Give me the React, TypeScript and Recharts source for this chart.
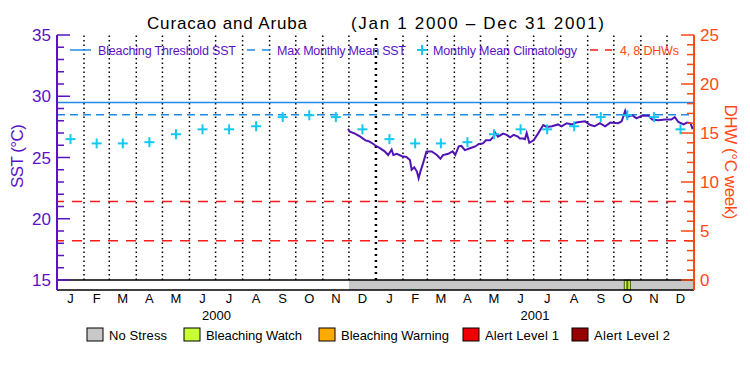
import { ComposedChart, Line, XAxis, YAxis, ReferenceLine, ReferenceArea } from 'recharts'

const FONT = '"Liberation Sans", Arial, sans-serif'
const PURPLE = '#5a12c8'
const ORANGE = '#ff4a14'
const BLUE = '#1e8ce6'
const CYAN = '#14c8f0'
const SST_LINE = '#5014b4'

const monthLetters = ['J', 'F', 'M', 'A', 'M', 'J', 'J', 'A', 'S', 'O', 'N', 'D']
const monthLengths2000 = [31, 29, 31, 30, 31, 30, 31, 31, 30, 31, 30, 31]
const monthLengths2001 = [31, 28, 31, 30, 31, 30, 31, 31, 30, 31, 30, 31]
const years = ['2000', '2001']

// monthly mean climatology (°C), same for both years
const climatology = [26.5, 26.15, 26.15, 26.25, 26.9, 27.3, 27.3, 27.55, 28.3, 28.45, 28.3, 27.3]

// satellite SST, day index from Jan 1 2000
const sstDays = [
  334, 336, 342, 348, 354, 357, 361, 365, 371, 376, 380, 384, 386, 390, 396, 401, 405, 407, 410, 413,
  415, 417, 420, 424, 430, 436, 440, 443, 449, 454, 457, 461, 464, 468, 474, 480, 484, 489, 492, 497,
  501, 503, 506, 512, 516, 520, 524, 529, 531, 535, 537, 539, 542, 547, 552, 558, 562, 568, 575, 579,
  585, 591, 596, 606, 612, 617, 623, 629, 635, 644, 648, 652, 654, 660, 665, 671, 679, 683, 690, 698,
  705, 709, 713, 719, 723, 727, 729, 731,
]
const sstValues = [
  27.35, 27.1, 26.95, 26.7, 26.4, 26.35, 26.2, 26.0, 25.75, 25.5, 25.2, 25.65, 25.2, 25.3, 25.1, 25.05, 24.8, 24.0, 24.2, 23.85,
  23.3, 23.85, 24.5, 25.5, 25.5, 25.2, 24.9, 25.2, 25.3, 25.5, 25.2, 25.9, 25.95, 25.6, 25.75, 25.9, 26.1, 26.15, 26.4, 26.4,
  26.7, 27.0, 26.7, 26.95, 26.85, 26.65, 26.85, 26.7, 26.55, 26.55, 26.5, 27.0, 26.2, 26.4, 26.95, 27.65, 27.5, 27.55, 27.7, 27.55,
  27.8, 27.7, 27.85, 27.95, 27.65, 27.55, 27.8, 27.55, 27.85, 27.8, 27.95, 28.8, 28.3, 28.45, 28.2, 28.4, 28.4, 28.1, 28.05, 28.1,
  28.1, 28.3, 27.9, 27.7, 27.85, 27.8, 27.4, 27.5,
]

const bleachingThreshold = 29.5
const maxMonthlyMean = 28.5
const dhwLevels = [4, 8]

// stress level bar
const noStressStart = 335
const watchPeriods = [
  [651, 654],
  [655, 658],
]
const stressNames = ['No Stress', 'Bleaching Watch', 'Bleaching Warning', 'Alert Level 1', 'Alert Level 2']
const stressColors = ['#c8c8c8', '#c8ff32', '#ffaa00', '#f00000', '#960000']

const TOTAL_DAYS = 731
const SST_DOMAIN = [14.1837, 35]
const DHW_DOMAIN = [-1.0204, 25]

const monthStarts: number[] = []
let acc = 0
for (const len of [...monthLengths2000, ...monthLengths2001]) {
  monthStarts.push(acc)
  acc += len
}
const monthLens = [...monthLengths2000, ...monthLengths2001]
const monthMids = monthStarts.map((s, i) => s + monthLens[i] / 2)
const yearMids = [183, 548.5]

const sstData = sstDays.map((d, i) => ({ d, v: sstValues[i] }))
const climData = monthMids.map((d, i) => ({ d, v: climatology[i % 12] }))

const sstTicks = Array.from({ length: 21 }, (_, i) => 15 + i)
const dhwTicks = Array.from({ length: 26 }, (_, i) => i)

function SstTick({ x, y, payload }: any) {
  const v = payload.value
  const major = v % 5 === 0
  return (
    <g>
      <line x1={x} x2={x + (major ? 13 : 7)} y1={y} y2={y} stroke={PURPLE} strokeWidth={1.5} />
      {major && (
        <text x={x - 6} y={y + 6} textAnchor="end" fill={PURPLE} fontSize={17} fontFamily={FONT}>
          {v}
        </text>
      )}
    </g>
  )
}

function DhwTick({ x, y, payload }: any) {
  const v = payload.value
  const major = v % 5 === 0
  return (
    <g>
      <line x1={x} x2={x - (major ? 13 : 7)} y1={y} y2={y} stroke={ORANGE} strokeWidth={1.5} />
      {major && (
        <text x={x + 6} y={y + 6} textAnchor="start" fill={ORANGE} fontSize={17} fontFamily={FONT}>
          {v}
        </text>
      )}
    </g>
  )
}

function MonthTick({ x, y, payload }: any) {
  const idx = monthMids.indexOf(payload.value)
  return (
    <text x={x} y={y + 13} textAnchor="middle" fill="#000" fontSize={13} fontFamily={FONT}>
      {monthLetters[idx % 12]}
    </text>
  )
}

function YearTick({ x, y, payload }: any) {
  const idx = yearMids.indexOf(payload.value)
  return (
    <text x={x} y={y + 12} textAnchor="middle" fill="#000" fontSize={13} fontFamily={FONT}>
      {years[idx] ?? ''}
    </text>
  )
}

function renderPlus(props: any) {
  const { cx, cy, index } = props
  if (cx == null || cy == null) return <g key={`p-${index}`} />
  return (
    <g key={`p-${index}`}>
      <line x1={cx - 5} x2={cx + 5} y1={cy} y2={cy} stroke={CYAN} strokeWidth={2} />
      <line x1={cx} x2={cx} y1={cy - 5} y2={cy + 5} stroke={CYAN} strokeWidth={2} />
    </g>
  )
}

export default function App() {
  return (
    <div style={{ position: 'absolute', left: 0, top: 0, width: 750, height: 375, background: '#fff' }}>
      <ComposedChart width={750} height={375} margin={{ top: 35, right: 0, bottom: 49, left: 0 }}>
        <XAxis
          xAxisId="top"
          orientation="top"
          type="number"
          domain={[0, TOTAL_DAYS]}
          allowDataOverflow
          height={0}
          tick={false}
          tickLine={false}
          axisLine={{ stroke: '#000', strokeWidth: 1.5 }}
        />
        <XAxis
          xAxisId="m"
          dataKey="d"
          type="number"
          domain={[0, TOTAL_DAYS]}
          allowDataOverflow
          ticks={monthMids}
          interval={0}
          height={18}
          tickLine={false}
          tickSize={0}
          tickMargin={0}
          axisLine={{ stroke: '#000', strokeWidth: 1.5 }}
          tick={<MonthTick />}
        />
        <XAxis
          xAxisId="yr"
          dataKey="d"
          type="number"
          domain={[0, TOTAL_DAYS]}
          allowDataOverflow
          ticks={yearMids}
          interval={0}
          height={18}
          tickLine={false}
          tickSize={0}
          tickMargin={0}
          axisLine={false}
          tick={<YearTick />}
        />
        <YAxis
          yAxisId="sst"
          type="number"
          domain={SST_DOMAIN}
          allowDataOverflow
          ticks={sstTicks}
          interval={0}
          width={57}
          tickLine={false}
          tickSize={0}
          tickMargin={0}
          axisLine={{ stroke: PURPLE, strokeWidth: 2 }}
          tick={<SstTick />}
        />
        <YAxis
          yAxisId="dhw"
          orientation="right"
          type="number"
          domain={DHW_DOMAIN}
          allowDataOverflow
          ticks={dhwTicks}
          interval={0}
          width={56}
          tickLine={false}
          tickSize={0}
          tickMargin={0}
          axisLine={{ stroke: ORANGE, strokeWidth: 2 }}
          tick={<DhwTick />}
        />

        {/* stress level strip */}
        <ReferenceArea
          xAxisId="m"
          yAxisId="sst"
          x1={noStressStart}
          x2={TOTAL_DAYS}
          y1={SST_DOMAIN[0]}
          y2={15}
          fill={stressColors[0]}
          fillOpacity={1}
          stroke="none"
        />
        {watchPeriods.map(([a, b]) => (
          <ReferenceArea
            key={`w-${a}`}
            xAxisId="m"
            yAxisId="sst"
            x1={a}
            x2={b}
            y1={SST_DOMAIN[0]}
            y2={15}
            fill={stressColors[1]}
            fillOpacity={1}
            stroke="#4a5a10"
            strokeWidth={1}
          />
        ))}
        <ReferenceLine xAxisId="m" yAxisId="sst" y={15} stroke="#000" strokeWidth={1.5} />

        {/* month separators */}
        {monthStarts.slice(1).map((s) => (
          <ReferenceLine
            key={`ms-${s}`}
            xAxisId="m"
            yAxisId="sst"
            segment={[
              { x: s, y: 15 },
              { x: s, y: 35 },
            ]}
            stroke="#000"
            strokeWidth={s === 366 ? 2.5 : 1.5}
            strokeDasharray={s === 366 ? '2 4' : '1.5 3'}
          />
        ))}

        <ReferenceLine xAxisId="m" yAxisId="sst" y={bleachingThreshold} stroke={BLUE} strokeWidth={1.5} />
        <ReferenceLine
          xAxisId="m"
          yAxisId="sst"
          y={maxMonthlyMean}
          stroke={BLUE}
          strokeWidth={1.5}
          strokeDasharray="8 5"
        />
        {dhwLevels.map((l) => (
          <ReferenceLine
            key={`dhw-${l}`}
            xAxisId="m"
            yAxisId="dhw"
            y={l}
            stroke="#ff1a1a"
            strokeWidth={1.5}
            strokeDasharray="10 8"
          />
        ))}

        {/* invisible series so the year axis has data */}
        <Line
          xAxisId="yr"
          yAxisId="sst"
          data={climData}
          dataKey="v"
          stroke="none"
          dot={false}
          activeDot={false}
          isAnimationActive={false}
        />
        <Line
          xAxisId="m"
          yAxisId="sst"
          data={climData}
          dataKey="v"
          stroke="none"
          dot={renderPlus}
          activeDot={false}
          isAnimationActive={false}
        />
        <Line
          xAxisId="m"
          yAxisId="sst"
          data={sstData}
          dataKey="v"
          type="linear"
          stroke={SST_LINE}
          strokeWidth={2}
          dot={false}
          activeDot={false}
          isAnimationActive={false}
        />
      </ComposedChart>

      <svg
        width={750}
        height={375}
        style={{ position: 'absolute', left: 0, top: 0, pointerEvents: 'none' }}
        fontFamily={FONT}
      >
        {/* title */}
        <text x={147} y={29} fontSize={17} fill="#000" textLength={160} lengthAdjust="spacing">
          Curacao and Aruba
        </text>
        <text x={351} y={29} fontSize={17} fill="#000" textLength={253} lengthAdjust="spacing">
          (Jan 1 2000 – Dec 31 2001)
        </text>

        {/* top legend */}
        <line x1={70} x2={91} y1={50} y2={50} stroke={BLUE} strokeWidth={1.5} />
        <text x={98} y={55} fontSize={12.5} fill={PURPLE} textLength={138} lengthAdjust="spacing">
          Bleaching Threshold SST
        </text>
        <line x1={247} x2={270} y1={50} y2={50} stroke={BLUE} strokeWidth={1.5} strokeDasharray="8 7" />
        <text x={277} y={55} fontSize={12.5} fill={PURPLE} textLength={129} lengthAdjust="spacing">
          Max Monthly Mean SST
        </text>
        <line x1={417} x2={427} y1={50} y2={50} stroke={CYAN} strokeWidth={2} />
        <line x1={422} x2={422} y1={45} y2={55} stroke={CYAN} strokeWidth={2} />
        <text x={433} y={55} fontSize={12.5} fill={PURPLE} textLength={144} lengthAdjust="spacing">
          Monthly Mean Climatology
        </text>
        <line x1={590} x2={612} y1={50} y2={50} stroke="#ff1a1a" strokeWidth={1.5} strokeDasharray="8 7" />
        <text x={620} y={55} fontSize={12.5} fill={ORANGE} textLength={59} lengthAdjust="spacing">
          4, 8 DHWs
        </text>

        {/* axis titles */}
        <text
          x={23}
          y={156}
          fontSize={17}
          fill={PURPLE}
          textAnchor="middle"
          transform="rotate(-90 23 156)"
          textLength={64}
          lengthAdjust="spacing"
        >
          SST (°C)
        </text>
        <text
          x={725}
          y={162}
          fontSize={17}
          fill={ORANGE}
          textAnchor="middle"
          transform="rotate(90 725 162)"
          textLength={115}
          lengthAdjust="spacing"
        >
          DHW (°C week)
        </text>

        {/* stress legend */}
        {stressNames.map((name, i) => {
          const boxX = [87, 184, 319, 463, 572][i]
          const textW = [58, 96, 108, 74, 76][i]
          return (
            <g key={name}>
              <rect x={boxX} y={328} width={16} height={13} fill={stressColors[i]} stroke="#000" strokeWidth={1} />
              <text x={boxX + 22} y={340} fontSize={13} fill="#000" textLength={textW} lengthAdjust="spacing">
                {name}
              </text>
            </g>
          )
        })}
      </svg>
    </div>
  )
}
